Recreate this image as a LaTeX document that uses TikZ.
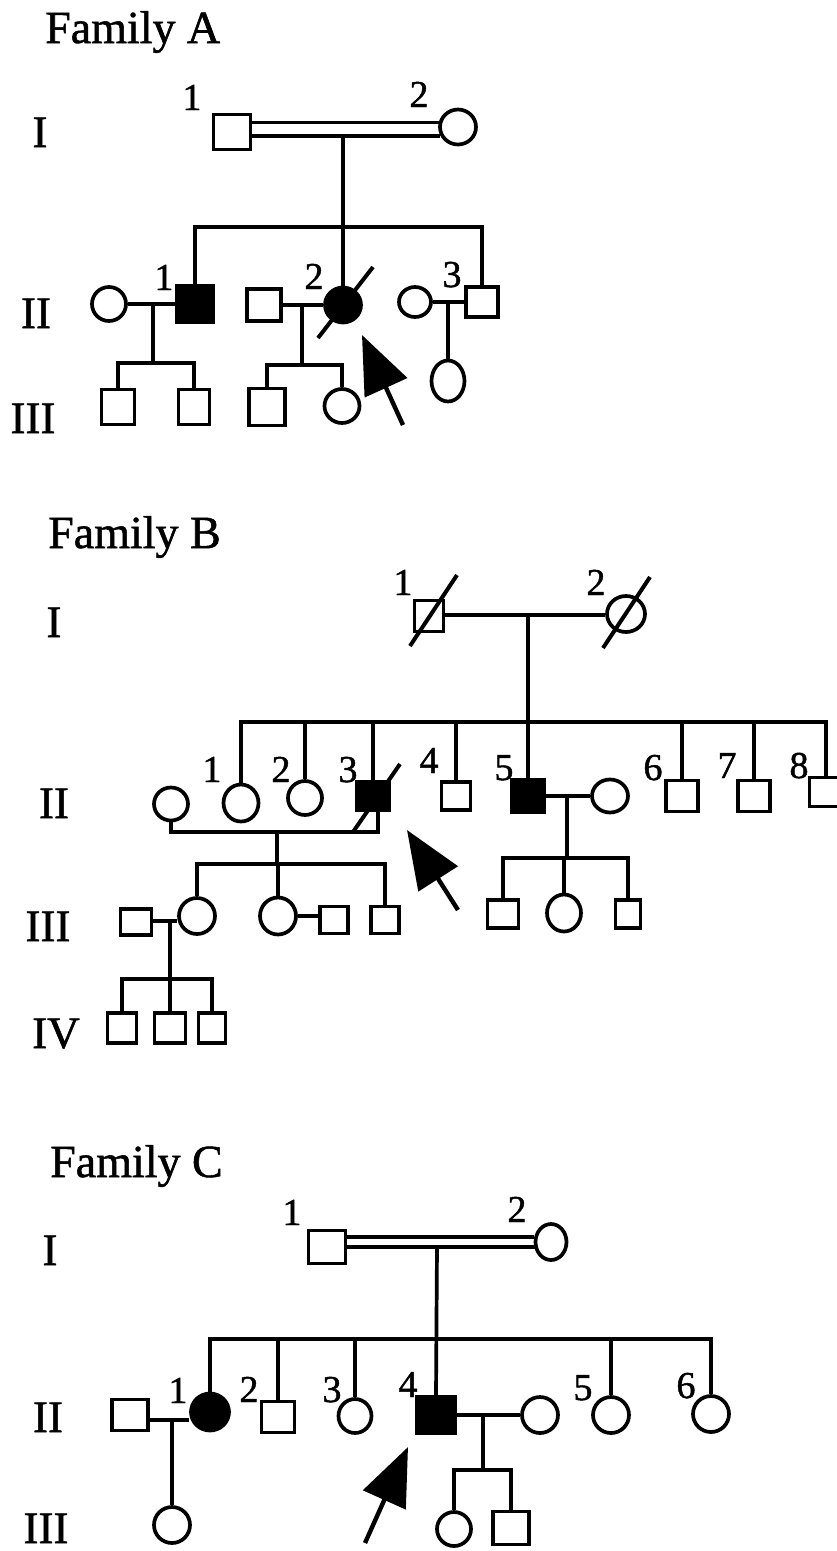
\documentclass[tikz,border=0pt]{standalone}
\usepackage{fontspec}
\setmainfont{Liberation Serif}
\newfontfamily\inkfont{Liberation Serif}[FakeBold=1.2]
\usetikzlibrary{shapes.geometric,arrows.meta,calc}
\tikzset{
 ln/.style={line width=3.7pt},
 male/.style 2 args={draw,rectangle,line width=3.7pt,inner sep=0pt,minimum width=#1pt,minimum height=#2pt},
 female/.style 2 args={draw,ellipse,line width=3.7pt,inner sep=0pt,minimum width=#1pt,minimum height=#2pt},
 aff/.style={fill=black},
 num/.style={font=\inkfont\fontsize{38}{42}\selectfont,inner sep=0pt,anchor=base},
 gen/.style={font=\inkfont\fontsize{45}{50}\selectfont,inner sep=0pt,anchor=base},
 ttl/.style={font=\inkfont\fontsize{46}{50}\selectfont,inner sep=0pt,anchor=base west},
 slash/.style={line width=4pt},
 proband/.style={line width=4.4pt,-{Triangle[length=58pt,width=46pt]}},
}
\begin{document}
\begin{tikzpicture}[x=1pt,y=-1pt]
\useasboundingbox (0,0) rectangle (837,1551);
\clip (0,0) rectangle (837,1551);
\fill[white] (0,0) rectangle (837,1551);

% ================= Family A =================
\node[ttl] (tA) at (45,43) {Family A};
\node[gen] (gAI) at (40,147) {I};
\node[gen] (gAII) at (36,328) {II};
\node[gen] (gAIII) at (33,433) {III};

\node[male={37}{35}] (A11) at (232,132) {};
\node[female={36}{35}] (A12) at (458,127) {};
\node[num] (nA11) at (192,110) {1};
\node[num] (nA12) at (419,107) {2};
\coordinate (Ay1) at (0,122.5);
\coordinate (Aj) at (343,136);
\draw[ln] (A11.east |- Ay1) -- ($(A12.west |- Ay1)+(0.5,0)$);
\draw[ln] (A11.east |- Aj) -- ($(A12.west |- Aj)+(2,0)$);

\coordinate (As) at (343,227);
\node[male={36}{36},aff] (A21) at (195,304) {};
\node[female={36}{35},aff] (A22) at (343,305) {};
\node[male={32}{30}] (A23) at (482,302) {};
\draw[ln] (Aj) -- (A22.north);
\draw[ln] (A21.north) |- (As) -| (A23.north);
\node[num] (nA21) at (164,290) {1};
\node[num] (nA22) at (314,289) {2};
\node[num] (nA23) at (452,287) {3};
\draw[slash] ($(A22)+(-25,33)$) -- ($(A22)+(30,-38)$);

\node[female={34}{34}] (A2s1) at (109,304) {};
\draw[ln] (A2s1.east) -- (A21.west);
\coordinate (Am1) at (153,304);
\coordinate (Ac1) at (153,363);
\draw[ln] (Am1) -- (Ac1);
\node[male={33}{35}] (A31) at (118,407) {};
\node[male={31}{35}] (A32) at (194,407) {};
\draw[ln] (A31.north) |- (Ac1) -| (A32.north);

\node[male={34}{32}] (A2s2) at (264,305) {};
\draw[ln] (A2s2.east) -- (A22.west);
\coordinate (Am2) at (302,305);
\coordinate (Ac2) at (302,365);
\draw[ln] (Am2) -- (Ac2);
\node[male={36}{37}] (A33) at (267,407) {};
\node[female={35}{34}] (A34) at (342,406) {};
\draw[ln] (A33.north) |- (Ac2) -| (A34.north);

\node[female={32}{30}] (A2s3) at (415,302) {};
\draw[ln] (A2s3.east) -- (A23.west);
\coordinate (Am3) at (448,302);
\node[female={33}{41}] (A35) at (448,381) {};
\draw[ln] (Am3) -- (A35.north);

\coordinate (Aat) at (362,335);
\coordinate (Aas) at (403,425);
\draw[proband] (Aas) -- (Aat);

% ================= Family B =================
\node[ttl] (tB) at (48,548) {Family B};
\node[gen] (gBI) at (54,637) {I};
\node[gen] (gBII) at (54,818) {II};
\node[gen] (gBIII) at (48,941) {III};
\node[gen] (gBIV) at (56,1048) {IV};

\node[male={29}{31}] (B11) at (429,616) {};
\node[female={38}{36}] (B12) at (626,614) {};
\node[num] (nB11) at (403,595) {1};
\node[num] (nB12) at (596,595) {2};
\coordinate (Bj) at (528,615);
\draw[ln] (B11.east |- Bj) -- (B12.west |- Bj);
\draw[slash] ($(B11)+(-19,30)$) -- ($(B11)+(28,-41)$);
\draw[slash] ($(B12)+(-23,34)$) -- ($(B12)+(24,-37)$);

\coordinate (Bs) at (528,722);
\node[female={35}{37}] (B21) at (241,803) {};
\node[female={34}{34}] (B22) at (305,798) {};
\node[male={33}{28},aff] (B23) at (373,796) {};
\node[male={29}{28}] (B24) at (456,796) {};
\node[male={33}{33},aff] (B25) at (528,796) {};
\node[male={32}{31}] (B26) at (682,796) {};
\node[male={32}{31}] (B27) at (754,796) {};
\node[male={33}{29}] (B28) at (826,792) {};
\draw[ln] (Bj) -- (B25.north);
\draw[ln] (B21.north) |- (Bs) -| (B28.north);
\foreach \n in {B22,B23,B24,B26,B27} \draw[ln] (\n.north) -- (\n.north |- Bs);
\node[num] (nB21) at (212,782) {1};
\node[num] (nB22) at (281,782) {2};
\node[num] (nB23) at (348,782) {3};
\node[num] (nB24) at (429,773) {4};
\node[num] (nB25) at (504,780) {5};
\node[num] (nB26) at (653,780) {6};
\node[num] (nB27) at (727,778) {7};
\node[num] (nB28) at (799,778) {8};
\draw[slash] ($(B23)+(-20,36)$) -- ($(B23)+(27,-32)$);

\node[female={34}{33}] (B2s3) at (171,804) {};
\coordinate (Bu) at (277,832);
\draw[ln] (B2s3.south) |- (Bu) -| ($(B23.south)+(5,0)$);
\coordinate (Bc3) at (277,864);
\draw[ln] (Bu) -- (Bc3);
\node[female={36}{36}] (B31) at (197,916) {};
\node[female={36}{37}] (B32) at (278,916) {};
\node[male={28}{27}] (B33) at (385,920) {};
\draw[ln] (B31.north) |- (Bc3) -| (B33.north);
\draw[ln] (B32.north) -- (B32.north |- Bc3);
\node[male={28}{27}] (B3s2) at (334,920) {};
\draw[ln] (B32.east) -- (B3s2.west |- B32.east);
\node[male={31}{26}] (B3s1) at (136,922) {};
\coordinate (Bm4) at (170,921);
\draw[ln] (B3s1.east |- Bm4) -- (B31.west |- Bm4);
\coordinate (Bc4) at (170,979);
\draw[ln] (Bm4) -- (Bc4);
\node[male={29}{30}] (B41) at (122,1028) {};
\node[male={31}{30}] (B42) at (170,1028) {};
\node[male={27}{30}] (B43) at (212,1028) {};
\draw[ln] (B41.north) |- (Bc4) -| (B43.north);
\draw[ln] (B42.north) -- (Bc4);

\node[female={36}{33}] (B2s5) at (610,796) {};
\draw[ln] (B25.east) -- (B2s5.west);
\coordinate (Bm5) at (567,796);
\coordinate (Bc5) at (567,858);
\draw[ln] (Bm5) -- (Bc5);
\node[male={31}{28}] (B51) at (503,914) {};
\node[female={34}{37}] (B52) at (564,913) {};
\node[male={25}{28}] (B53) at (628,914) {};
\draw[ln] (B51.north) |- (Bc5) -| (B53.north);
\draw[ln] (B52.north) -- (B52.north |- Bc5);

\coordinate (Bat) at (407,830);
\coordinate (Bas) at (458,910);
\draw[proband] (Bas) -- (Bat);

% ================= Family C =================
\node[ttl] (tC) at (50,1177) {Family C};
\node[gen] (gCI) at (50,1265) {I};
\node[gen] (gCII) at (48,1432) {II};
\node[gen] (gCIII) at (46,1543) {III};

\node[male={37}{33}] (C11) at (327,1247) {};
\node[female={31}{36}] (C12) at (551,1242) {};
\node[num] (nC11) at (292,1225) {1};
\node[num] (nC12) at (517,1222) {2};
\coordinate (Cy1) at (0,1237);
\coordinate (Cj) at (437,1247);
\draw[ln] (C11.east |- Cy1) -- ($(C12.west |- Cy1)+(0.5,0)$);
\draw[ln] (C11.east |- Cj) -- ($(C12.west |- Cj)+(1,0)$);

\coordinate (Cs) at (437,1339);
\node[female={38}{37},aff] (C21) at (210,1412) {};
\node[male={33}{31}] (C22) at (278,1417) {};
\node[female={33}{34}] (C23) at (355,1416) {};
\node[male={38}{36},aff] (C24) at (436,1415) {};
\node[female={36}{36}] (C25) at (611,1415) {};
\node[female={36}{36}] (C26) at (711,1414) {};
\draw[ln] (Cj) -- (C24.north);
\draw[ln] (C21.north) |- (Cs) -| (C26.north);
\foreach \n in {C22,C23,C25} \draw[ln] (\n.north) -- (\n.north |- Cs);
\node[num] (nC21) at (178,1403) {1};
\node[num] (nC22) at (249,1402) {2};
\node[num] (nC23) at (332,1402) {3};
\node[num] (nC24) at (408,1397) {4};
\node[num] (nC25) at (583,1400) {5};
\node[num] (nC26) at (686,1398) {6};

\node[male={36}{31}] (C2s1) at (130,1415) {};
\coordinate (Cm1) at (172,1420);
\draw[ln] (C2s1.east |- Cm1) -- (C21.west |- Cm1);
\node[female={36}{36}] (C31) at (172,1525) {};
\draw[ln] (Cm1) -- (C31.north);

\node[female={36}{36}] (C2s4) at (540,1415) {};
\draw[ln] (C24.east) -- (C2s4.west);
\coordinate (Cm4) at (483,1415);
\coordinate (Cc4) at (483,1470);
\draw[ln] (Cm4) -- (Cc4);
\node[female={34}{34}] (C41) at (454,1529) {};
\node[male={36}{33}] (C42) at (511,1528) {};
\draw[ln] (C41.north) |- (Cc4) -| (C42.north);

\coordinate (Cat) at (408,1447);
\coordinate (Cas) at (365,1543);
\draw[proband] (Cas) -- (Cat);
\end{tikzpicture}
\end{document}
